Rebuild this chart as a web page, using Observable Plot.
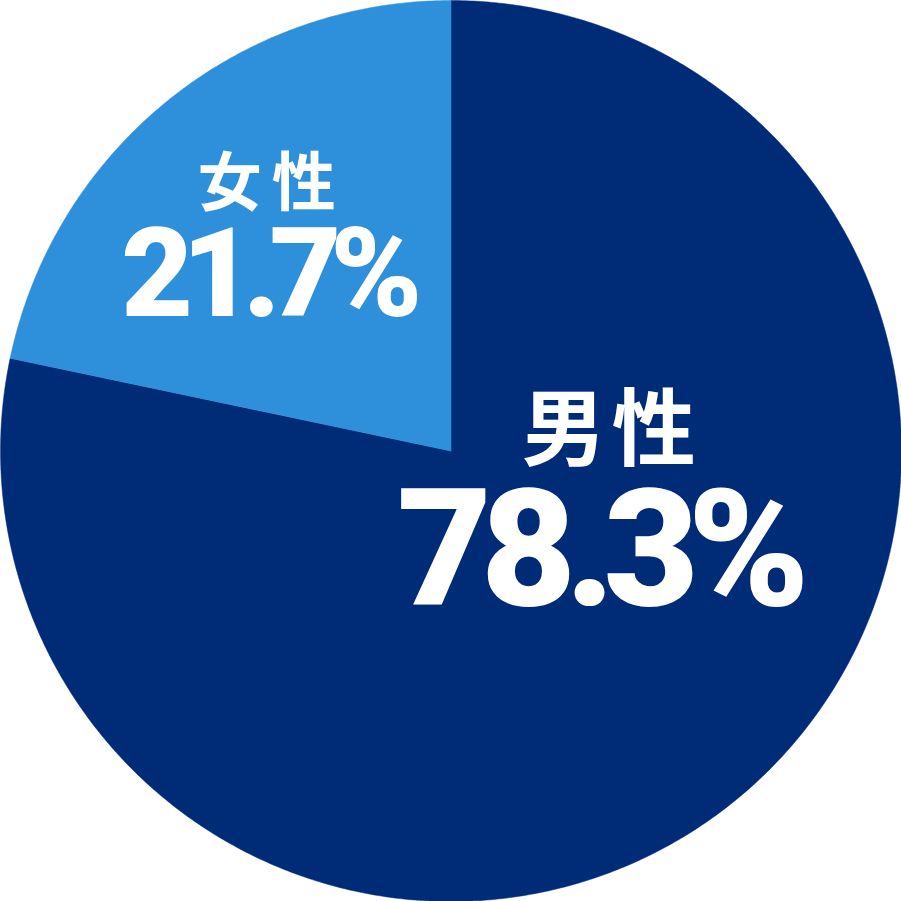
<!DOCTYPE html>
<html><head><meta charset="utf-8">
<script src="https://cdn.jsdelivr.net/npm/d3@7"></script>
<script src="https://cdn.jsdelivr.net/npm/@observablehq/plot@0.6"></script>
<style>
html,body{margin:0;padding:0;background:#fff;}
#chart svg{display:block;}
</style>
</head><body><div id="chart"></div>
<script>
// Data
const categories = ["男性", "女性"];
const shares = [78.3, 21.7];
const valueLabels = ["78.3%", "21.7%"];
const colors = ["#002c77", "#2e90db"];

// Build slice polygons from d3.pie angles (clockwise from 12 o'clock)
const pie = d3.pie().sort(null).value(d => d.share);
const arcs = pie(categories.map((c, i) => ({cat: c, share: shares[i]})));
const rows = [];
for (const a of arcs) {
  const n = Math.max(8, Math.ceil((a.endAngle - a.startAngle) * 120));
  rows.push({cat: a.data.cat, x: 0, y: 0});
  for (let k = 0; k <= n; k++) {
    const t = a.startAngle + (a.endAngle - a.startAngle) * k / n;
    rows.push({cat: a.data.cat, x: Math.sin(t), y: Math.cos(t)});
  }
  rows.push({cat: a.data.cat, x: 0, y: 0});
}

// label layout anchors (in unit-circle coordinates)
const nameAt = {"男性": [0.357, 0.041], "女性": [-0.398, 0.591]};
const valueAt = {"男性": [0.326, -0.225], "女性": [-0.410, 0.388]};
const labelRows = categories.map((c, i) => ({cat: c, value: valueLabels[i]}));

const chart = Plot.plot({
  width: 901, height: 901,
  margin: 0,
  x: {domain: [-1, 1], axis: null},
  y: {domain: [-1, 1], axis: null},
  color: {domain: categories, range: colors},
  style: {background: "transparent", overflow: "visible"},
  marks: [
    Plot.line(rows, {x: "x", y: "y", z: "cat", fill: "cat", stroke: "cat", strokeWidth: 0.5, curve: "linear"}),
    Plot.text(labelRows.filter(d => d.cat === "男性"), {x: d => nameAt[d.cat][0], y: d => nameAt[d.cat][1], text: "cat", fill: "white", fontSize: 84, fontWeight: 700, fontFamily: "'Noto Sans CJK JP', sans-serif"}),
    Plot.text(labelRows.filter(d => d.cat === "女性"), {x: d => nameAt[d.cat][0], y: d => nameAt[d.cat][1], text: "cat", fill: "white", fontSize: 64, fontWeight: 700, fontFamily: "'Noto Sans CJK JP', sans-serif"}),
    Plot.text(labelRows.filter(d => d.cat === "男性"), {x: d => valueAt[d.cat][0], y: d => valueAt[d.cat][1], text: "value", fill: "white", fontSize: 164, fontWeight: 900, fontFamily: "Roboto, 'Liberation Sans', sans-serif"}),
    Plot.text(labelRows.filter(d => d.cat === "女性"), {x: d => valueAt[d.cat][0], y: d => valueAt[d.cat][1], text: "value", fill: "white", fontSize: 124, fontWeight: 900, fontFamily: "Roboto, 'Liberation Sans', sans-serif"})
  ]
});
document.getElementById("chart").appendChild(chart);
const svg = d3.select(chart);
svg.selectAll("g[font-size='84']").attr("letter-spacing", "6");
svg.selectAll("g[font-size='64']").attr("letter-spacing", "10");
svg.selectAll("g[font-size='164']").attr("letter-spacing", "-11");
svg.selectAll("g[font-size='124']").attr("letter-spacing", "-11");
</script>
</body></html>
